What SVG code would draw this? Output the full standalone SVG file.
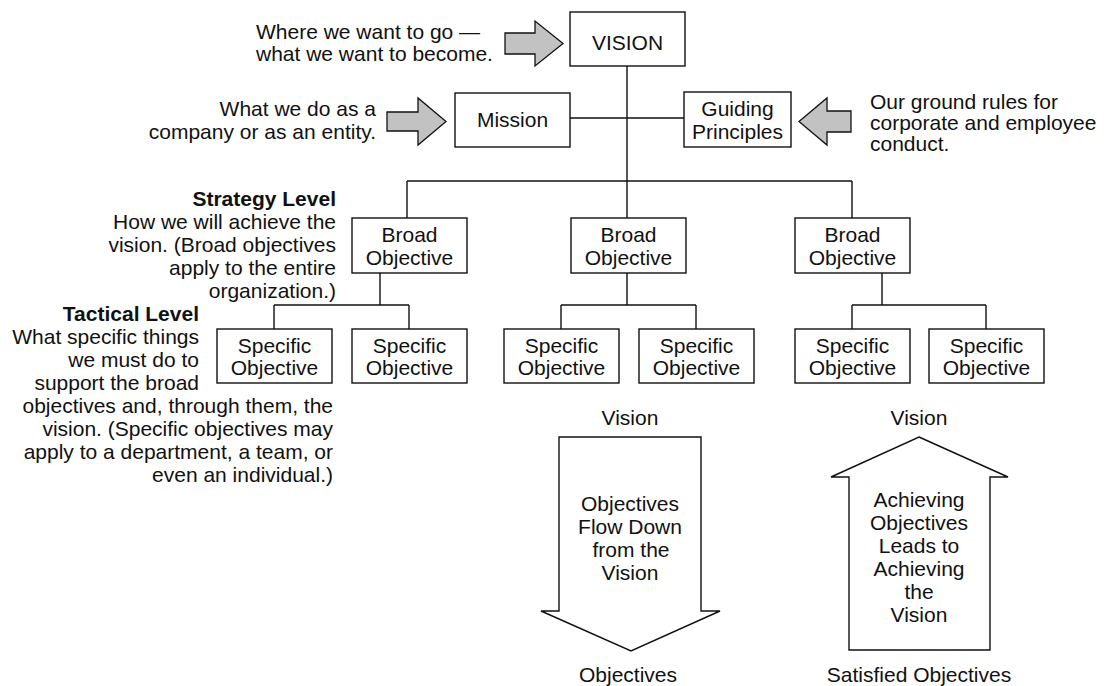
<svg xmlns="http://www.w3.org/2000/svg" width="1106" height="686" viewBox="0 0 1106 686">
<style>
text{font-family:"Liberation Sans",Arial,Helvetica,sans-serif;font-size:21px;fill:#111}
.c{text-anchor:middle}
.r{text-anchor:end}
.b{font-weight:bold}
.box{fill:#fff;stroke:#111;stroke-width:1.4}
.ln{fill:none;stroke:#111;stroke-width:1.4}
.ga{fill:#c2c2c2;stroke:#111;stroke-width:1.3;stroke-linejoin:miter}
.big{fill:#fff;stroke:#111;stroke-width:1.4}
</style>
<rect width="1106" height="686" fill="#fff"/>
<g id="connectors">
<path class="ln" d="M627,66V218M570,118H684M407,181H852M407,181V218M852,181V218"/>
<path class="ln" d="M380,273V305M274,305H409M274,305V329M409,305V329"/>
<path class="ln" d="M627,273V305M561,305H696M561,305V329M696,305V329"/>
<path class="ln" d="M882,273V305M852,305H986M852,305V329M986,305V329"/>
</g>
<g id="vision"><rect class="box" x="570" y="12" width="115" height="54"/><text class="c" x="627.5" y="50">VISION</text></g>
<g id="mission"><rect class="box" x="455" y="93" width="115" height="54"/><text class="c" x="512.5" y="127">Mission</text></g>
<g id="guiding"><rect class="box" x="684" y="92" width="107" height="55"/><text class="c" x="737.5" y="116">Guiding</text><text class="c" x="737.5" y="139">Principles</text></g>
<g id="broad1"><rect class="box" x="352" y="218" width="115" height="55"/><text class="c" x="409.5" y="242">Broad</text><text class="c" x="409.5" y="265">Objective</text></g>
<g id="broad2"><rect class="box" x="571" y="218" width="115" height="55"/><text class="c" x="628.5" y="242">Broad</text><text class="c" x="628.5" y="265">Objective</text></g>
<g id="broad3"><rect class="box" x="795" y="218" width="115" height="55"/><text class="c" x="852.5" y="242">Broad</text><text class="c" x="852.5" y="265">Objective</text></g>
<g id="spec1"><rect class="box" x="217" y="329" width="115" height="54"/><text class="c" x="274.5" y="353">Specific</text><text class="c" x="274.5" y="375">Objective</text></g>
<g id="spec2"><rect class="box" x="352" y="329" width="115" height="54"/><text class="c" x="409.5" y="353">Specific</text><text class="c" x="409.5" y="375">Objective</text></g>
<g id="spec3"><rect class="box" x="504" y="329" width="115" height="54"/><text class="c" x="561.5" y="353">Specific</text><text class="c" x="561.5" y="375">Objective</text></g>
<g id="spec4"><rect class="box" x="639" y="329" width="115" height="54"/><text class="c" x="696.5" y="353">Specific</text><text class="c" x="696.5" y="375">Objective</text></g>
<g id="spec5"><rect class="box" x="795" y="329" width="115" height="54"/><text class="c" x="852.5" y="353">Specific</text><text class="c" x="852.5" y="375">Objective</text></g>
<g id="spec6"><rect class="box" x="929" y="329" width="115" height="54"/><text class="c" x="986.5" y="353">Specific</text><text class="c" x="986.5" y="375">Objective</text></g>
<g id="arrow-vision"><polygon class="ga" points="505,33 535,33 535,21 563,43.5 535,66 535,54 505,54"/><text x="256" y="39">Where we want to go —</text><text x="256" y="61">what we want to become.</text></g>
<g id="arrow-mission"><polygon class="ga" points="387,112 418,112 418,98 446,121.5 418,145 418,131 387,131"/><text class="r" x="376" y="116">What we do as a</text><text class="r" x="376" y="139">company or as an entity.</text></g>
<g id="arrow-guiding"><polygon class="ga" points="799,121.5 827,98 827,111 851,111 851,132 827,132 827,145"/><text x="870" y="109">Our ground rules for</text><text x="870" y="130">corporate and employee</text><text x="870" y="151">conduct.</text></g>
<g id="strategy-note"><text class="r b" x="336" y="206">Strategy Level</text><text class="r" x="336" y="229">How we will achieve the</text><text class="r" x="336" y="252">vision. (Broad objectives</text><text class="r" x="336" y="275">apply to the entire</text><text class="r" x="336" y="298">organization.)</text></g>
<g id="tactical-note"><text class="r b" x="199" y="321">Tactical Level</text><text class="r" x="199" y="344">What specific things</text><text class="r" x="199" y="367">we must do to</text><text class="r" x="199" y="390">support the broad</text><text class="r" x="333" y="413">objectives and, through them, the</text><text class="r" x="333" y="436">vision. (Specific objectives may</text><text class="r" x="333" y="459">apply to a department, a team, or</text><text class="r" x="333" y="482">even an individual.)</text></g>
<g id="flow-down"><text class="c" x="630" y="425">Vision</text><polygon class="big" points="559,437 701,437 701,611 720,611 631,651 541,611 559,611"/><text class="c" x="630" y="511">Objectives</text><text class="c" x="630" y="534">Flow Down</text><text class="c" x="631" y="557">from the</text><text class="c" x="630" y="580">Vision</text><text class="c" x="628" y="682">Objectives</text></g>
<g id="flow-up"><text class="c" x="919" y="425">Vision</text><polygon class="big" points="919,437 1008,477 990,477 990,650 849,650 849,477 831,477"/><text class="c" x="919" y="507">Achieving</text><text class="c" x="919" y="530">Objectives</text><text class="c" x="919" y="553">Leads to</text><text class="c" x="919" y="576">Achieving</text><text class="c" x="919" y="599">the</text><text class="c" x="919" y="622">Vision</text><text class="c" x="919" y="682">Satisfied Objectives</text></g>
</svg>
